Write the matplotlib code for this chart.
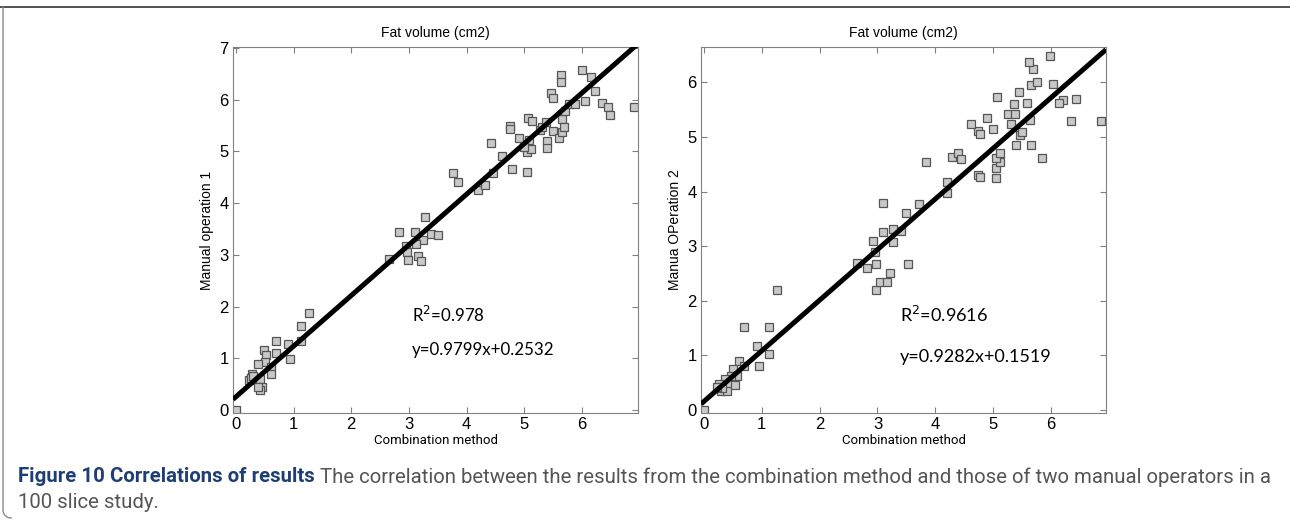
import matplotlib.pyplot as plt
import numpy as np

# Manual operator 1 vs combination method
op1_x = [0.0, 1.26, 1.13, 1.13, 0.91, 0.70, 0.70, 0.48, 0.53, 0.94, 0.51, 0.38,
         0.61, 0.61, 0.28, 0.23, 0.27, 0.42, 0.45, 0.41, 0.39, 0.30,
         2.65, 2.82, 3.10, 3.28, 3.39, 3.51, 3.25, 2.94, 3.12, 2.97, 2.98, 3.16, 3.20,
         3.76, 3.85, 4.20, 4.31, 4.45, 4.42, 4.62, 4.78, 5.05, 5.05, 4.90, 5.12,
         4.75, 4.75, 5.06, 5.13, 5.40, 5.40, 5.08, 5.27, 5.31, 5.38, 5.50, 5.60,
         5.65, 5.66, 5.69, 5.70, 5.77, 5.87, 5.46, 5.49, 5.63, 5.63, 6.00, 6.16,
         6.23, 6.05, 6.35, 6.45, 6.48, 6.90, 4.99]
op1_y = [0.0, 1.87, 1.62, 1.34, 1.28, 1.34, 1.11, 1.16, 1.07, 0.99, 0.92, 0.89,
         0.83, 0.70, 0.69, 0.57, 0.62, 0.60, 0.44, 0.38, 0.45, 0.66,
         2.92, 3.44, 3.44, 3.73, 3.41, 3.38, 3.28, 3.18, 3.20, 3.05, 2.90, 2.97, 2.88,
         4.58, 4.41, 4.25, 4.36, 4.58, 5.16, 4.92, 4.66, 4.61, 4.99, 5.25, 5.04,
         5.50, 5.44, 5.64, 5.58, 5.21, 5.06, 5.23, 5.41, 5.48, 5.57, 5.39, 5.26,
         5.37, 5.63, 5.48, 5.79, 5.91, 5.91, 6.13, 6.03, 6.47, 6.35, 6.57, 6.43,
         6.17, 5.97, 5.94, 5.86, 5.70, 5.85, 5.08]

# Manual operator 2 vs combination method
op2_x = [0.0, 1.27, 0.70, 1.13, 0.92, 1.13, 0.95, 0.60, 0.69, 0.50, 0.58, 0.46,
         0.37, 0.26, 0.43, 0.29, 0.40, 0.32, 0.53, 0.22,
         2.97, 3.05, 3.16, 3.22, 3.52, 2.64, 2.82, 2.97, 2.95, 2.93, 3.26, 3.10,
         3.40, 3.26, 3.49, 3.10, 3.72,
         3.84, 4.20, 4.20, 4.29, 4.40, 4.44, 4.73, 4.77, 5.05, 5.05, 5.12, 5.05,
         5.12, 5.40, 5.65, 5.84, 5.47, 5.49, 5.30, 4.99, 4.74, 4.77, 4.61, 4.89,
         5.25, 5.38, 5.64, 6.34, 6.86, 5.06, 5.36, 5.59, 5.44, 6.20, 6.14, 6.44,
         5.66, 5.75, 6.04, 5.69, 5.62, 5.98]
op2_y = [0.0, 2.20, 1.52, 1.52, 1.16, 1.02, 0.80, 0.89, 0.80, 0.75, 0.62, 0.62,
         0.56, 0.48, 0.48, 0.34, 0.35, 0.40, 0.46, 0.42,
         2.19, 2.34, 2.34, 2.51, 2.67, 2.69, 2.59, 2.67, 2.89, 3.10, 3.08, 3.26,
         3.27, 3.31, 3.60, 3.79, 3.77,
         4.54, 4.17, 3.98, 4.63, 4.70, 4.60, 4.31, 4.27, 4.25, 4.43, 4.55, 4.62,
         4.70, 4.85, 4.86, 4.62, 5.03, 5.09, 5.23, 5.15, 5.11, 5.06, 5.23, 5.35,
         5.43, 5.42, 5.32, 5.30, 5.29, 5.74, 5.61, 5.63, 5.83, 5.68, 5.63, 5.69,
         5.95, 6.01, 5.97, 6.25, 6.38, 6.48]

slopes = [0.9799, 0.9282]
intercepts = [0.2532, 0.1519]
r2_texts = ['R$^2$=0.978', 'R$^2$=0.9616']
eq_texts = ['y=0.9799x+0.2532', 'y=0.9282x+0.1519']
ylabels = ['Manual operation 1', 'Manua OPeration 2']

W, H = 1290, 520
fig = plt.figure(figsize=(W / 100, H / 100), dpi=100)

panels = [
    dict(rect=[233 / W, 107 / H, 405 / W, 366 / H], x=op1_x, y=op1_y,
         xlim=(-0.05, 6.97), ylim=(-0.06, 7.02), yticks=range(0, 8),
         r2_pos=(3.05, 1.84), eq_pos=(3.05, 1.16), fs=12.2),
    dict(rect=[701 / W, 107 / H, 405 / W, 366 / H], x=op2_x, y=op2_y,
         xlim=(-0.05, 6.95), ylim=(-0.06, 6.65), yticks=range(0, 7),
         r2_pos=(3.39, 1.73), eq_pos=(3.39, 0.97), fs=13),
]

for i, p in enumerate(panels):
    ax = fig.add_axes(p['rect'])
    ax.plot(p['x'], p['y'], 's', ms=6.4, mfc='#c8c8c8', mec='#555555', mew=0.9, zorder=2)
    xs = np.array(p['xlim'])
    ax.plot(xs, slopes[i] * xs + intercepts[i], color='black', lw=3.6,
            solid_capstyle='butt', zorder=3)
    ax.set_xlim(p['xlim'])
    ax.set_ylim(p['ylim'])
    ax.set_xticks(range(0, 7))
    ax.set_yticks(list(p['yticks']))
    ax.tick_params(direction='in', length=4, width=0.8, color='#808080',
                   top=True, right=True, labelsize=12, pad=3)
    for lab in ax.get_xticklabels() + ax.get_yticklabels():
        lab.set_family('Liberation Sans')
    for s in ax.spines.values():
        s.set_color('#808080')
        s.set_linewidth(0.8)
    ax.set_title('Fat volume (cm2)', fontsize=10, family='Liberation Sans', pad=7)
    ax.set_ylabel(ylabels[i], fontsize=10, family='Liberation Sans', labelpad=4)
    ax.set_xlabel('Combination method', fontsize=9.5, family='Roboto', labelpad=1)
    ax.text(p['r2_pos'][0], p['r2_pos'][1], r2_texts[i], fontsize=p['fs'],
            family='Lato', va='center')
    ax.text(p['eq_pos'][0], p['eq_pos'][1], eq_texts[i], fontsize=p['fs'],
            family='Lato', va='center')

# frame around figure
frame = fig.add_axes([0, 0, 1, 1], zorder=-1)
frame.set_xlim(0, W)
frame.set_ylim(H, 0)
frame.axis('off')
frame.plot([0, W], [7, 7], color='#333333', lw=1.2)
t = np.linspace(np.pi, np.pi / 2, 20)
frame.plot(np.concatenate([[3, 3], 11 + 8 * np.cos(t)]),
           np.concatenate([[7, 510], 510 + 8 * np.sin(t)]), color='#888888', lw=1.0)

# caption: size chosen so the first line runs to the right margin
cap_font = 'Roboto'
cap_bold = 'Figure 10 Correlations of results'
cap_rest = ('The correlation between the results from the combination method '
            'and those of two manual operators in a')
fs = 12.0
t1 = fig.text(18 / W, 1 - 477 / H, cap_bold, fontsize=fs, fontweight='bold',
              color='#1f3f74', family=cap_font, va='center')
fig.canvas.draw()
bb = t1.get_window_extent()
t2 = fig.text((bb.x1 + 5) / W, 1 - 477 / H, cap_rest, fontsize=fs, color='#555555',
              family=cap_font, va='center')
fig.canvas.draw()
right = t2.get_window_extent().x1
fs = fs * (1275 - 18) / (right - 18)
t1.set_fontsize(fs)
fig.canvas.draw()
bb = t1.get_window_extent()
t2.set_fontsize(fs)
t2.set_x((bb.x1 + 5) / W)
fig.text(18 / W, 1 - 503 / H, '100 slice study.', fontsize=fs, color='#555555',
         family=cap_font, va='center')

fig.savefig('out.png', dpi=100)
